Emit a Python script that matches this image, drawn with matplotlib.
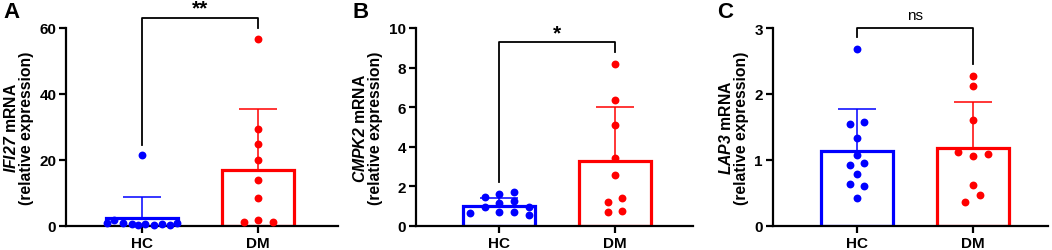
import numpy as np
import matplotlib
matplotlib.use("Agg")
import matplotlib.pyplot as plt

plt.rcParams['font.family'] = ['Liberation Sans', 'DejaVu Sans']
plt.rcParams['mathtext.fontset'] = 'custom'
plt.rcParams['mathtext.rm'] = 'Liberation Sans'
plt.rcParams['mathtext.bf'] = 'Liberation Sans:bold'
plt.rcParams['mathtext.bfit'] = 'Liberation Sans:italic:bold'

groups = ['HC', 'DM']
colors = ['#0000FF', '#FF0000']

# points (value, horizontal jitter in category units)
a_hc = [0.9, 1.9, 1.0, 0.5, 0.3, 21.4, 0.6, 0.3, 0.5, 0.4, 0.8]
a_hc_dx = [-0.30, -0.24, -0.16, -0.09, -0.03, 0.0, 0.03, 0.10, 0.17, 0.24, 0.30]
a_dm = [56.6, 29.5, 24.8, 20.1, 13.8, 8.5, 1.7, 1.3, 1.3]
a_dm_dx = [0, 0, 0, 0, 0, 0, 0, -0.118, 0.132]
a_mean = [2.4, 17.1]
a_sd = [6.4, 18.4]

b_hc = [0.66, 1.45, 0.94, 1.62, 1.16, 0.69, 1.70, 1.28, 0.73, 0.94, 0.56]
b_hc_dx = [-0.253, -0.124, -0.124, 0, 0, 0, 0.13, 0.13, 0.13, 0.256, 0.256]
b_dm = [8.2, 6.37, 5.11, 3.42, 2.6, 1.42, 1.2, 0.76, 0.69]
b_dm_dx = [0, 0, 0, 0, 0, 0.063, -0.063, 0.063, -0.063]
b_mean = [1.03, 3.26]
b_sd = [0.39, 2.74]

c_hc = [2.68, 1.55, 1.57, 1.34, 1.08, 0.93, 0.95, 0.79, 0.63, 0.60, 0.43]
c_hc_dx = [0, -0.064, 0.064, 0, 0, -0.064, 0.064, 0, -0.064, 0.064, 0]
c_dm = [2.28, 2.12, 1.61, 1.12, 1.06, 1.09, 0.62, 0.47, 0.37]
c_dm_dx = [0, 0, 0, -0.13, 0, 0.13, 0, 0.064, -0.064]
c_mean = [1.13, 1.185]
c_sd = [0.65, 0.695]

panels = [
    dict(letter='A', lx=3, gene='IFI27', hc=a_hc, hc_dx=a_hc_dx, dm=a_dm, dm_dx=a_dm_dx,
         mean=a_mean, sd=a_sd, ymax=60, yticks=[0, 20, 40, 60],
         sig='**', br=(24.5, 63, 60), star_y=66.0,
         rect=[66/1052, 24/251, 272/1052, 198/251], xlim=(-0.655, 1.69)),
    dict(letter='B', lx=353, gene='CMPK2', hc=b_hc, hc_dx=b_hc_dx, dm=b_dm, dm_dx=b_dm_dx,
         mean=b_mean, sd=b_sd, ymax=10, yticks=[0, 2, 4, 6, 8, 10],
         sig='*', br=(2.22, 9.3, 8.8), star_y=9.75,
         rect=[415.7/1052, 24/251, 277/1052, 198/251], xlim=(-0.718, 1.67)),
    dict(letter='C', lx=717, gene='LAP3', hc=c_hc, hc_dx=c_hc_dx, dm=c_dm, dm_dx=c_dm_dx,
         mean=c_mean, sd=c_sd, ymax=3, yticks=[0, 1, 2, 3],
         sig='ns', br=(2.86, 3.0, 2.45), star_y=3.2,
         rect=[772.7/1052, 24/251, 275/1052, 198/251], xlim=(-0.727, 1.647)),
]

fig = plt.figure(figsize=(10.52, 2.51), dpi=100)

for p in panels:
    ax = fig.add_axes(p['rect'])
    x = np.arange(len(groups))
    # bars
    ax.bar(x, p['mean'], width=0.62, facecolor='white', edgecolor=colors,
           linewidth=2.3, zorder=2)
    # upper error bars only
    for i in range(2):
        ax.errorbar(x[i], p['mean'][i], yerr=[[0], [p['sd'][i]]], color=colors[i],
                    elinewidth=1.1, capsize=13.5, capthick=1.1, zorder=3)
    # individual points
    ax.scatter(x[0] + np.array(p['hc_dx']), p['hc'], s=32, color=colors[0],
               zorder=4, clip_on=False, linewidths=0)
    ax.scatter(x[1] + np.array(p['dm_dx']), p['dm'], s=32, color=colors[1],
               zorder=4, clip_on=False, linewidths=0)

    ax.set_xlim(*p['xlim'])
    ax.set_ylim(0, p['ymax'])
    ax.set_yticks(p['yticks'])
    ax.set_xticks(x)
    ax.set_xticklabels(groups)
    for s in ['top', 'right']:
        ax.spines[s].set_visible(False)
    for s in ['left', 'bottom']:
        ax.spines[s].set_linewidth(1.6)
    ax.tick_params(width=1.6, length=5, labelsize=11, pad=2)
    for t in ax.get_xticklabels() + ax.get_yticklabels():
        t.set_fontweight('bold')

    ax.set_ylabel('$\\mathbfit{' + p['gene'] + '}$ mRNA\n(relative expression)',
                  fontsize=11.3, fontweight='bold', linespacing=1.0, labelpad=4)

    # significance bracket
    lo_hc, top, lo_dm = p['br']
    ax.plot([0, 0, 1, 1], [lo_hc, top, top, lo_dm], color='black', lw=1.3,
            clip_on=False, zorder=5)
    if p['sig'] == 'ns':
        ax.text(0.5, p['star_y'], p['sig'], ha='center', va='center', fontsize=11)
    else:
        ax.text(0.5, p['star_y'], p['sig'], ha='center', va='center', fontsize=15,
                fontweight='bold')

    fig.text(p['lx']/1052, 1 - 2/251, p['letter'], fontsize=16,
             fontweight='bold', ha='left', va='top')

fig.savefig('out.png', dpi=100)
